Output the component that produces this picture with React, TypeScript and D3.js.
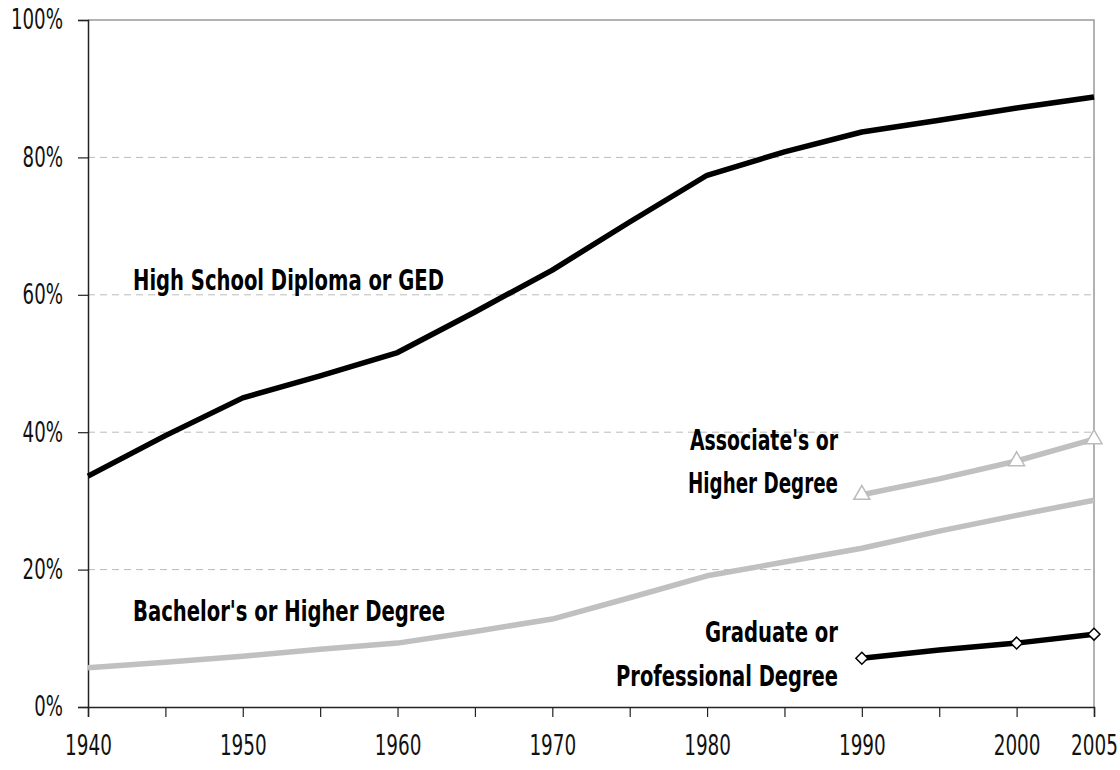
import { useEffect, useRef } from "react";
import * as d3 from "d3";

const years = [1940, 1945, 1950, 1955, 1960, 1965, 1970, 1975, 1980, 1985, 1990, 1995, 2000, 2005];
const highSchool = [33.6, 39.5, 45.0, 48.2, 51.6, 57.5, 63.6, 70.6, 77.4, 80.8, 83.7, 85.4, 87.2, 88.8];
const bachelors = [5.7, 6.5, 7.4, 8.4, 9.3, 11.0, 12.8, 15.9, 19.1, 21.1, 23.1, 25.6, 27.9, 30.1];
const assocYears = [1990, 1995, 2000, 2005];
const associates = [30.9, 33.2, 35.8, 39.0];
const graduate = [7.1, 8.3, 9.3, 10.6];
const markerYears = [1990, 2000, 2005];
const xTickLabels = [1940, 1950, 1960, 1970, 1980, 1990, 2000, 2005];
const yTicks = [0, 20, 40, 60, 80, 100];

const W = 1120, H = 770;
const m = { top: 20, right: 26, bottom: 63, left: 88 };
const LABEL_FONT = "'Liberation Sans Narrow', 'DejaVu Sans Condensed', 'Arial Narrow', sans-serif";

// narrow tick text: approximate width of a condensed glyph run
const tickWidth = (s: string) => s.split("").reduce((w, c) => w + (c === "%" ? 17 : 11.7), 0);

export default function App() {
  const ref = useRef<SVGSVGElement>(null);

  useEffect(() => {
    const svg = d3.select(ref.current);
    svg.selectAll("*").remove();

    const x = d3.scaleLinear().domain([1940, 2005]).range([m.left, W - m.right]);
    const y = d3.scaleLinear().domain([0, 100]).range([H - m.bottom, m.top]);

    // gridlines
    svg.append("g")
      .selectAll("line")
      .data([20, 40, 60, 80])
      .join("line")
      .attr("x1", m.left).attr("x2", W - m.right)
      .attr("y1", (d) => y(d)).attr("y2", (d) => y(d))
      .attr("stroke", "#bbb").attr("stroke-width", 1)
      .attr("stroke-dasharray", "7,5");

    // frame top/right
    svg.append("path")
      .attr("d", `M${m.left},${y(100)}H${x(2005)}V${y(0)}`)
      .attr("fill", "none").attr("stroke", "#999").attr("stroke-width", 1.5);

    // y axis
    const yAxis = svg.append("g")
      .attr("transform", `translate(${m.left},0)`)
      .call(d3.axisLeft(y).tickValues(yTicks).tickSize(10).tickPadding(15).tickFormat((d) => `${d}%`));
    yAxis.select(".domain").attr("stroke", "#222").attr("stroke-width", 1.5);
    yAxis.selectAll(".tick line").attr("stroke", "#222").attr("stroke-width", 1.2);
    yAxis.selectAll<SVGTextElement, number>("text")
      .attr("font-family", LABEL_FONT).attr("font-size", 28).attr("fill", "#111")
      .attr("textLength", (d) => tickWidth(`${d}%`))
      .attr("lengthAdjust", "spacingAndGlyphs");

    // x axis
    const xAxis = svg.append("g")
      .attr("transform", `translate(0,${y(0)})`)
      .call(d3.axisBottom(x).tickValues(years).tickSize(10).tickPadding(18)
        .tickFormat((d) => (xTickLabels.includes(d as number) ? String(d) : "")));
    xAxis.select(".domain").attr("stroke", "#222").attr("stroke-width", 1.5);
    xAxis.selectAll(".tick line").attr("stroke", "#222").attr("stroke-width", 1.2);
    xAxis.selectAll<SVGTextElement, number>("text")
      .filter((d) => xTickLabels.includes(d))
      .attr("font-family", LABEL_FONT).attr("font-size", 28).attr("fill", "#111")
      .attr("textLength", (d) => tickWidth(String(d)))
      .attr("lengthAdjust", "spacingAndGlyphs");

    const line = d3.line<[number, number]>().x((d) => x(d[0])).y((d) => y(d[1]));
    const draw = (xs: number[], vs: number[], color: string) =>
      svg.append("path")
        .datum(xs.map((yr, i) => [yr, vs[i]] as [number, number]))
        .attr("d", line)
        .attr("fill", "none").attr("stroke", color).attr("stroke-width", 5.5)
        .attr("stroke-linejoin", "round");

    draw(years, bachelors, "#c0c0c0");
    draw(assocYears, associates, "#c0c0c0");
    draw(years, highSchool, "#000");
    draw(assocYears, graduate, "#000");

    // triangle markers
    const tri = d3.symbol().type(d3.symbolTriangle).size(110);
    svg.append("g")
      .selectAll("path")
      .data(markerYears)
      .join("path")
      .attr("d", tri)
      .attr("transform", (d) => `translate(${x(d)},${y(associates[assocYears.indexOf(d)])})`)
      .attr("fill", "#fff").attr("stroke", "#bbb").attr("stroke-width", 1.5);

    // diamond markers
    const dia = d3.symbol().type(d3.symbolDiamond2).size(90);
    svg.append("g")
      .selectAll("path")
      .data(markerYears)
      .join("path")
      .attr("d", dia)
      .attr("transform", (d) => `translate(${x(d)},${y(graduate[assocYears.indexOf(d)])})`)
      .attr("fill", "#fff").attr("stroke", "#000").attr("stroke-width", 1.5);

    // labels
    const labels: [string, number, number, string, number][] = [
      ["High School Diploma or GED", 133, 290, "start", 311],
      ["Associate's or", 838, 450, "end", 148],
      ["Higher Degree", 838, 493, "end", 150],
      ["Bachelor's or Higher Degree", 133, 621, "start", 312],
      ["Graduate or", 838, 642, "end", 133],
      ["Professional Degree", 838, 686, "end", 222],
    ];
    svg.append("g")
      .selectAll("text")
      .data(labels)
      .join("text")
      .attr("x", (d) => d[1]).attr("y", (d) => d[2])
      .attr("text-anchor", (d) => d[3])
      .attr("textLength", (d) => d[4])
      .attr("lengthAdjust", "spacingAndGlyphs")
      .attr("font-family", LABEL_FONT).attr("font-weight", "bold")
      .attr("font-size", 28).attr("fill", "#000")
      .text((d) => d[0]);
  }, []);

  return (
    <svg
      ref={ref}
      width={W}
      height={H}
      style={{ position: "absolute", left: 0, top: 0, display: "block", background: "#fff", overflow: "visible" }}
    />
  );
}
